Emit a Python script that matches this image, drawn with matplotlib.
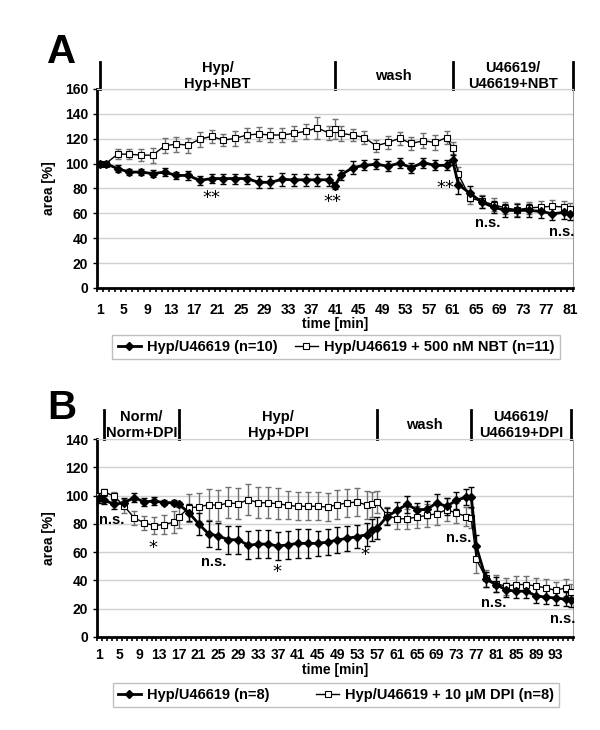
import matplotlib
matplotlib.use("Agg")
import matplotlib.pyplot as plt
import matplotlib.transforms as mtransforms
import numpy as np

plt.rcParams['font.family'] = ['Liberation Sans', 'DejaVu Sans']
plt.rcParams['font.weight'] = 'bold'

# ---------------- Panel A data ----------------
a_time = [1, 2, 4, 6, 8, 10, 12, 14, 16, 18, 20, 22, 24, 26, 28, 30, 32, 34, 36, 38, 40,
          41, 42, 44, 46, 48, 50, 52, 54, 56, 58, 60,
          61, 62, 64, 66, 68, 70, 72, 74, 76, 78, 80, 81]
a_ctrl = [100, 100, 96, 93.2, 93.2, 92, 93.2, 90.5, 90.5, 86.5, 88, 88, 88, 88, 85, 85, 87.3, 87, 87, 87, 87,
          82.4, 90.8, 96.8, 98.6, 99.5, 98, 100.3, 96.8, 100.8, 98.6, 98.6,
          102.7, 83.2, 76, 69, 64.9, 62.4, 62.4, 62.4, 61.6, 59.7, 60.8, 59.7]
a_ctrl_err = [0, 1, 2.7, 2.5, 2.5, 2.7, 3, 3, 3.5, 3.5, 3.5, 4, 4, 4, 5, 5, 5, 5, 5, 5, 5,
              3, 4, 5, 4, 4, 4, 4, 4, 4, 4, 4,
              4, 8, 6, 5, 5, 5, 5, 5, 5, 5, 5, 5]
a_nbt = [100, 100, 107.6, 107.6, 106.8, 106.8, 114.3, 115.7, 114.9, 119.7, 121.9, 118.9, 120.3, 123, 123.8, 123, 123, 124.3, 126, 128.6, 124.6,
         127.8, 124.3, 123, 121, 114.3, 117, 120.3, 116.2, 118.4, 117, 121,
         112.4, 91.4, 72.4, 69.7, 67, 64.3, 63, 64.3, 65.1, 65.7, 65.1, 63.5]
a_nbt_err = [0, 1.5, 4, 4, 5, 6, 6, 6, 6, 6, 5, 5, 6, 6, 6, 6, 6, 6, 6, 9, 6,
             8, 6, 5, 5, 5, 5, 5, 5, 6, 6, 5,
             5, 6, 5, 5, 5, 5, 5, 5, 5, 5, 5, 5]
a_ticks = list(range(1, 82, 4))
a_phase_bounds = [1, 41, 61, 81.5]
a_phase_labels = ["Hyp/\nHyp+NBT", "wash", "U46619/\nU46619+NBT"]
a_legend = ["Hyp/U46619 (n=10)", "Hyp/U46619 + 500 nM NBT (n=11)"]
a_annot = [(20, 72, "**"), (40.5, 69, "**"), (59.8, 80, "**"), (67, 52, "n.s."), (79.5, 45, "n.s.")]

# ---------------- Panel B data ----------------
b_time = [1, 2, 4, 6, 8, 10, 12, 14, 16,
          17, 19, 21, 23, 25, 27, 29, 31, 33, 35, 37, 39, 41, 43, 45, 47, 49, 51, 53, 55,
          56, 57, 59, 61, 63, 65, 67, 69, 71, 73, 75,
          76, 77, 79, 81, 83, 85, 87, 89, 91, 93, 95, 96]
b_ctrl = [98, 96.7, 93.8, 95, 98.6, 95.5, 96.2, 95, 95,
          93.8, 88, 80, 72.9, 71.4, 68.8, 68.8, 64.8, 65.7, 65.7, 64.3, 65.2, 66.2, 66.2, 66.2, 67.1, 68.6, 69.8, 71, 72.4,
          75.7, 77.1, 85.2, 89.5, 93.8, 90, 90.2, 94.8, 92.4, 96.7, 99,
          99, 64, 40.7, 37.1, 33.3, 32.4, 32.4, 29.3, 28.1, 27.6, 26.7, 26]
b_ctrl_err = [3, 3, 3, 3, 3, 3, 3, 2, 2,
              2, 6, 8, 9, 9, 10, 10, 10, 10, 10, 10, 10, 10, 10, 9, 9, 9, 9, 8, 8,
              8, 8, 6, 6, 6, 5, 6, 6, 6, 6, 6,
              7, 8, 5, 5, 5, 5, 5, 5, 5, 5, 5, 5]
b_dpi = [100, 102.6, 99.5, 92.4, 84.3, 80.7, 78.8, 79.5, 81.2,
         84.8, 91.4, 91.9, 93.6, 93.1, 94.8, 94.3, 97.1, 95, 94.8, 94.3, 93.1, 92.4, 92.4, 92.4, 91.9, 93.6, 94.8, 95.5, 93.1,
         93.8, 95.5, 86, 83.6, 83.6, 84.8, 86, 87.1, 90, 87.6, 85.2,
         84, 55, 41.4, 37.6, 36, 37.1, 37.1, 36, 34.8, 32.9, 34.8, 31.7]
b_dpi_err = [2, 2, 3, 5, 5, 5, 6, 7, 8,
             8, 10, 10, 11, 11, 11, 11, 11, 11, 11, 11, 10, 10, 10, 10, 10, 10, 10, 10, 10,
             9, 8, 6, 7, 7, 8, 8, 8, 8, 7, 7,
             7, 10, 6, 6, 6, 6, 6, 6, 6, 6, 6, 6]
b_ticks = list(range(1, 94, 4))
b_phase_bounds = [2, 17, 57, 76, 96]
b_phase_labels = ["Norm/\nNorm+DPI", "Hyp/\nHyp+DPI", "wash", "U46619/\nU46619+DPI"]
b_legend = ["Hyp/U46619 (n=8)", "Hyp/U46619 + 10 µM DPI (n=8)"]
b_annot = [(3.5, 83, "n.s."), (11.7, 63, "*"), (24, 53, "n.s."), (36.8, 46, "*"), (54.6, 58, "*"),
           (73.5, 70, "n.s."), (80.5, 24, "n.s."), (94.5, 13, "n.s.")]

W, H = 600, 730
fig = plt.figure(figsize=(W / 100, H / 100), dpi=100)


def px_axes(left, top, right, bottom):
    return fig.add_axes([left / W, 1 - bottom / H, (right - left) / W, (bottom - top) / H])


def draw_panel(ax, t, c, ce, d, de, ncat, ymax, ticks, bounds, labels, annots, header_h, letter,
               leg_labels, leg_y, colsp, tpad, lpad):
    ax.set_xlim(0.5, ncat + 0.5)
    ax.set_ylim(0, ymax)
    ax.set_yticks(np.arange(0, ymax + 1, 20))
    ax.yaxis.grid(True, color='#d0d0d0', lw=1)
    ax.set_axisbelow(True)
    ax.set_xticks(ticks)
    ax.set_xticks(np.arange(0.5, ncat + 1, 1), minor=True)
    ax.tick_params(axis='x', which='major', length=0, pad=tpad, labelsize=10)
    ax.tick_params(axis='x', which='minor', length=3, width=1.2, direction='out')
    ax.tick_params(axis='y', which='major', length=3, width=1, labelsize=10)
    for lab in ax.get_xticklabels() + ax.get_yticklabels():
        lab.set_fontweight('bold')
    ax.spines['left'].set_linewidth(2)
    ax.spines['bottom'].set_linewidth(2)
    ax.spines['right'].set_color('#a0a0a0')
    ax.spines['top'].set_color('#d0d0d0')
    ax.set_xlabel("time [min]", fontsize=10, fontweight='bold', labelpad=lpad)
    ax.set_ylabel("area [%]", fontsize=10, fontweight='bold', labelpad=6)

    ax.errorbar(t, d, yerr=de, fmt='none', ecolor='#707070', elinewidth=1, capsize=2.5, capthick=1, zorder=2)
    ax.errorbar(t, c, yerr=ce, fmt='none', ecolor='black', elinewidth=1, capsize=2.5, capthick=1, zorder=3)
    l2, = ax.plot(t, d, color='black', lw=1, marker='s', ms=4.5, mfc='white', mec='black', mew=0.8, zorder=4)
    l1, = ax.plot(t, c, color='black', lw=2, marker='D', ms=3.6, mfc='black', mec='black', zorder=5)

    for (x, y, s) in annots:
        if s == "n.s.":
            ax.text(x, y, s, ha='center', va='center', fontsize=10.5, fontweight='bold')
        else:
            ax.text(x, y, s, ha='center', va='center', fontsize=13, fontweight='normal',
                    family=['DejaVu Sans'])

    trans = mtransforms.blended_transform_factory(ax.transData, ax.transAxes)
    for b in bounds:
        ax.plot([b, b], [1, 1 + header_h], color='black', lw=2, transform=trans, clip_on=False)
    for i, lab in enumerate(labels):
        xm = (bounds[i] + bounds[i + 1]) / 2
        ax.text(xm, 1 + header_h * 0.48, lab, transform=trans, ha='center', va='center',
                fontsize=10.5, fontweight='bold', linespacing=1.2)

    fig.text(47 / W, 1 - letter[1] / H, letter[0], fontsize=29, fontweight='bold', ha='left', va='center')

    leg = fig.legend([l1, l2], leg_labels, loc='center', bbox_to_anchor=(336 / W, 1 - leg_y / H),
                     ncol=2, frameon=True, fancybox=False, edgecolor='#b0b0b0', fontsize=10.5,
                     handlelength=1.6, columnspacing=colsp, borderpad=0.35, handletextpad=0.4)
    leg.get_frame().set_linewidth(1)
    for txt in leg.get_texts():
        txt.set_fontweight('bold')


axA = px_axes(97, 89, 573, 288)
draw_panel(axA, a_time, a_ctrl, a_ctrl_err, a_nbt, a_nbt_err, 81, 160, a_ticks,
           a_phase_bounds, a_phase_labels, a_annot, 27 / 199, ("A", 52), a_legend, 347, 1.2, 11, 0)

axB = px_axes(97, 439, 573, 637)
draw_panel(axB, b_time, b_ctrl, b_ctrl_err, b_dpi, b_dpi_err, 96, 140, b_ticks,
           b_phase_bounds, b_phase_labels, b_annot, 29 / 198, ("B", 408), b_legend, 695, 3.2, 8, 0.5)

fig.savefig("out.png", dpi=100)
